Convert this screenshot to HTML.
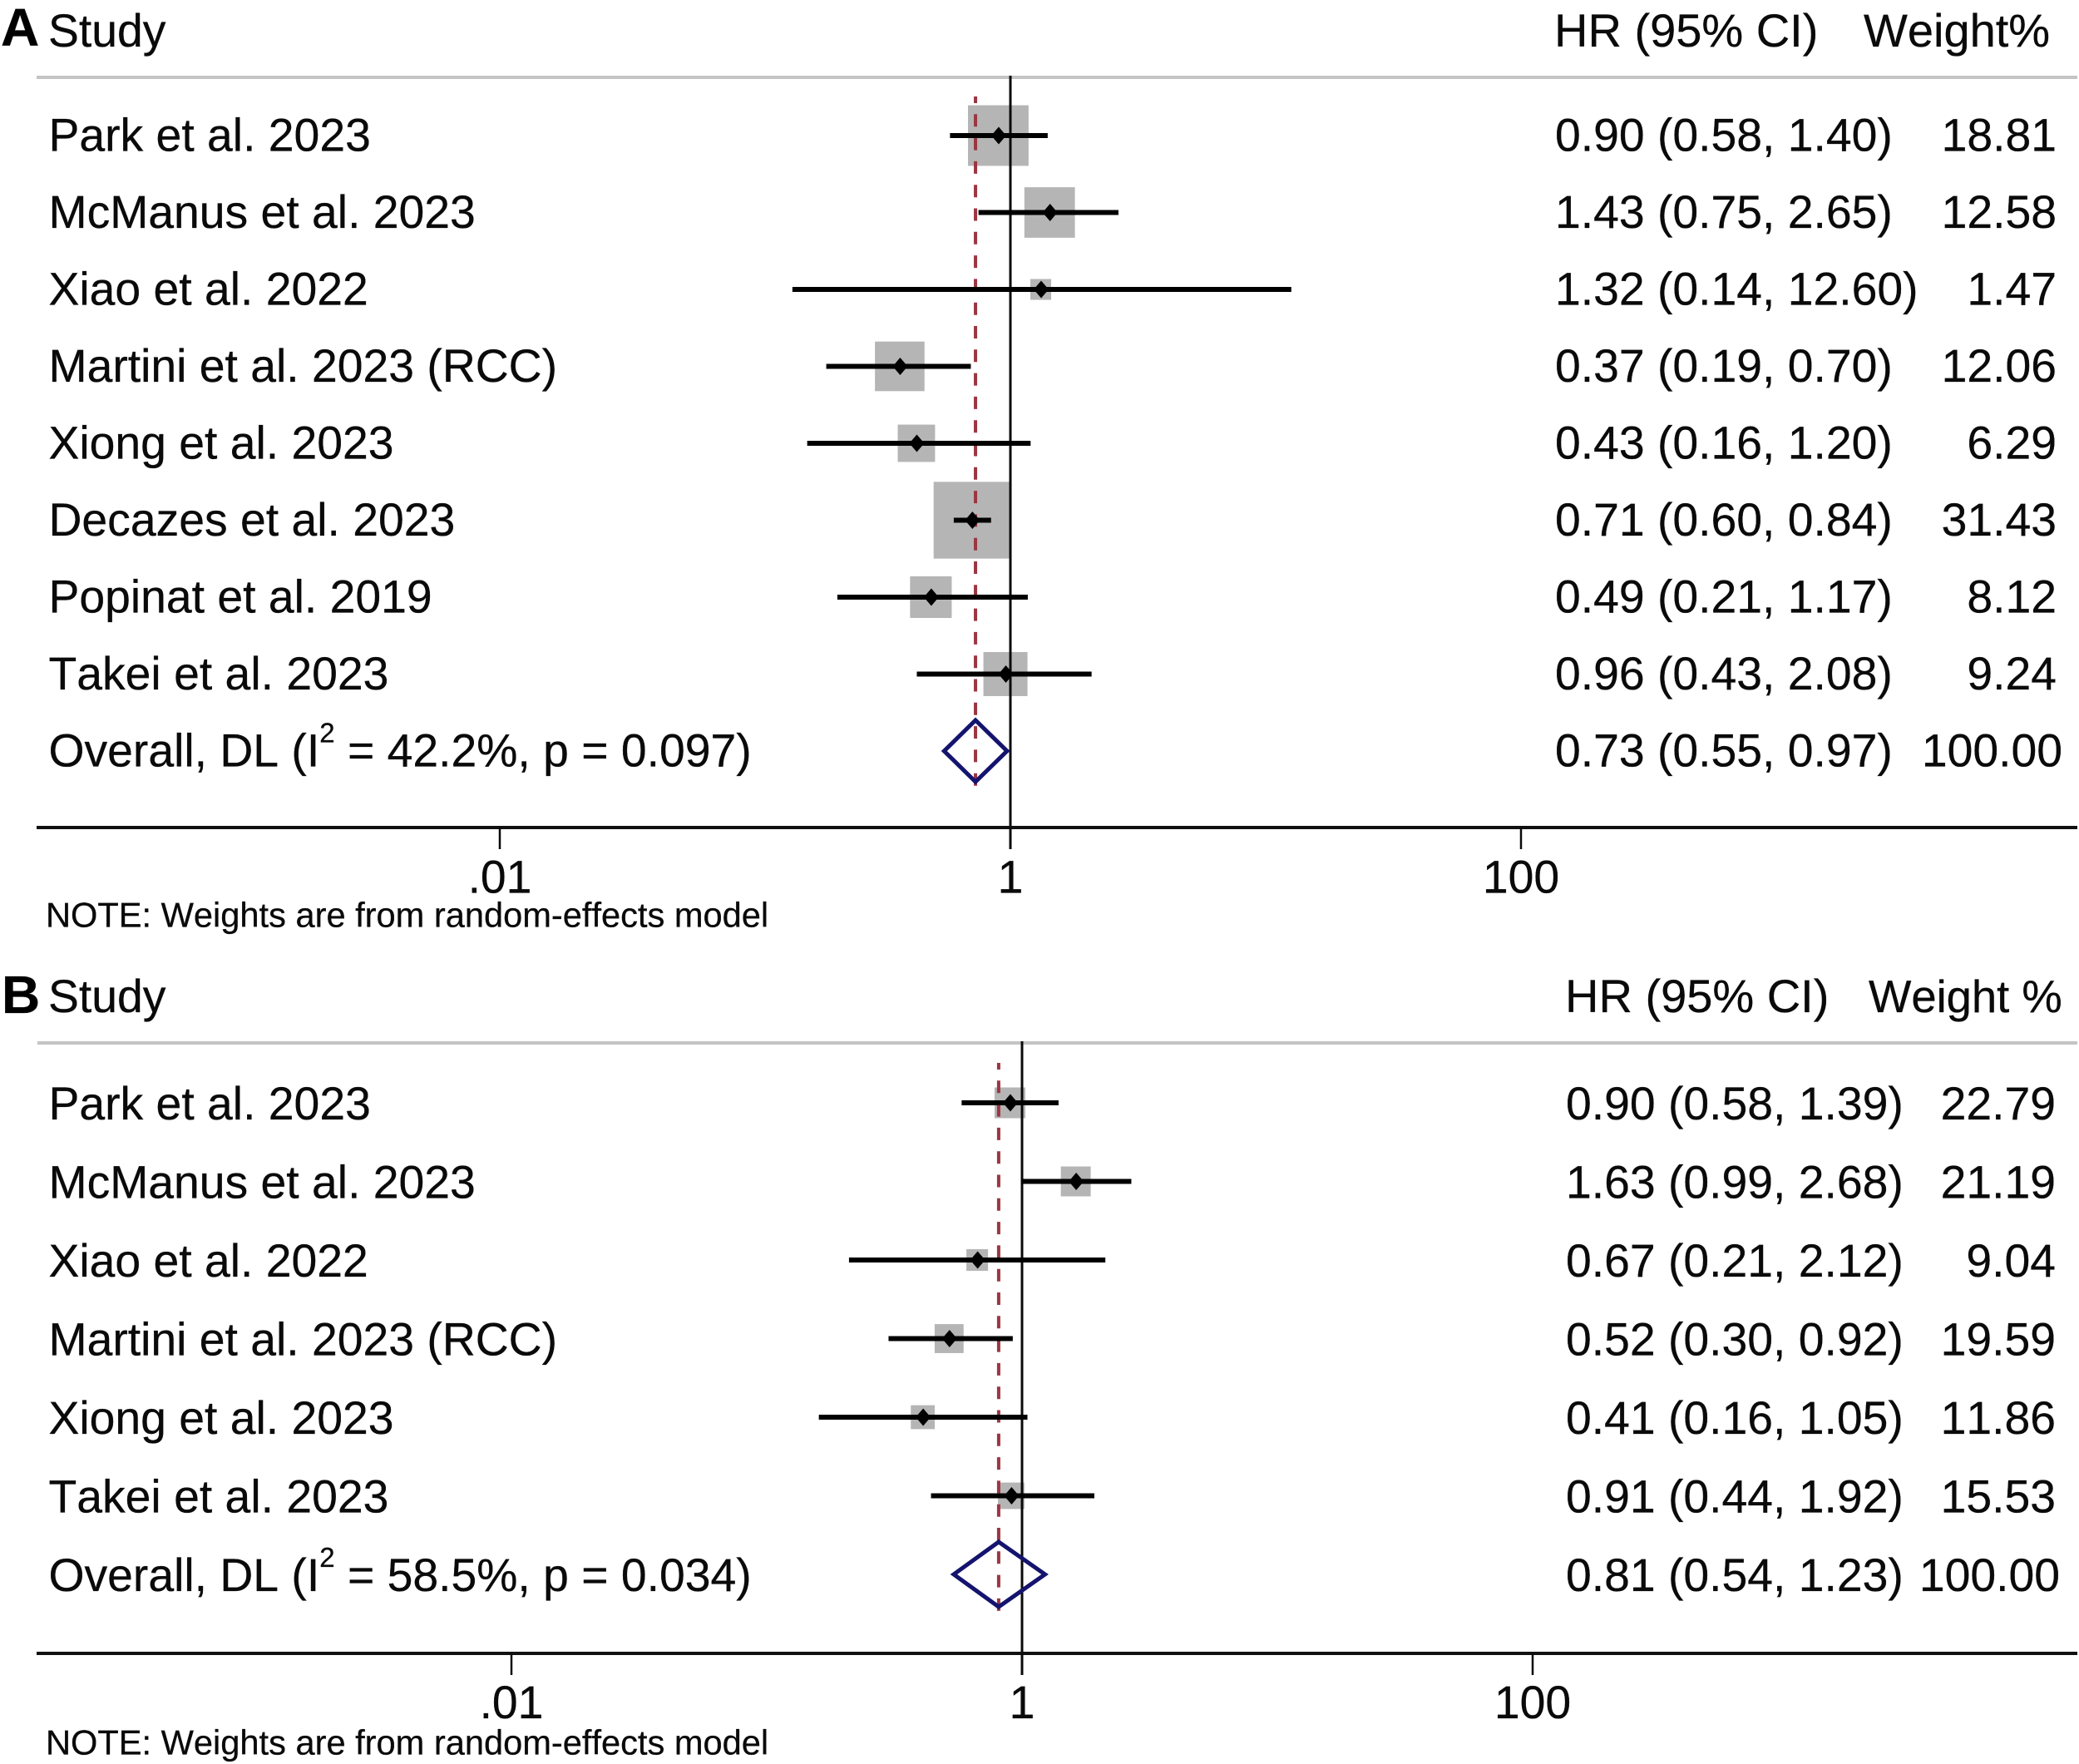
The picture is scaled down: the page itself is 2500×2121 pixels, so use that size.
<!DOCTYPE html>
<html lang="en">
<head>
<meta charset="utf-8">
<title>Forest plots of hazard ratios</title>
<style>
html,body{margin:0;padding:0;background:#fff;}
svg{display:block;}
text{font-family:"Liberation Sans",Arial,sans-serif;fill:#0a0a0a;stroke:#0a0a0a;stroke-width:.3px;font-kerning:none;}
.t{font-size:55.3px;}
.h{font-size:56px;}
.note{font-size:41.6px;}
.panel-letter{font-size:64px;font-weight:bold;fill:#000;}
</style>
</head>
<body>
<svg id="chart" xmlns="http://www.w3.org/2000/svg" width="2500" height="2121" viewBox="0 0 2500 2121">
  <rect x="0" y="0" width="2500" height="2121" fill="#fff"/>

  <g id="panelA">
    <text class="panel-letter" x="1" y="55">A</text>
    <text class="t" x="58" y="56">Study</text>
    <text class="h" x="1869" y="56">HR (95% CI)</text>
    <text class="h" x="2241" y="56">Weight%</text>
    <rect x="44" y="91" width="2454" height="4" fill="#c4c4c4"/>
    <text class="note" x="55" y="1114.5">NOTE: Weights are from random-effects model</text>
  </g>

  <g id="panelB">
    <text class="panel-letter" x="2" y="1218">B</text>
    <text class="t" x="58" y="1217">Study</text>
    <text class="h" x="1882" y="1217">HR (95% CI)</text>
    <text class="t" style="font-size:54.4px" x="2247" y="1217">Weight %</text>
    <rect x="45" y="1252" width="2453" height="4" fill="#c4c4c4"/>
    <text class="note" x="55" y="2109.5">NOTE: Weights are from random-effects model</text>
  </g>
</svg>

<script>
// ---- Axis ticks (shared) ----
const tickValues = [0.01, 1, 100];
const tickLabels = [".01", "1", "100"];

// ---- Panel A data ----
const studiesA = ["Park et al. 2023", "McManus et al. 2023", "Xiao et al. 2022", "Martini et al. 2023 (RCC)", "Xiong et al. 2023", "Decazes et al. 2023", "Popinat et al. 2019", "Takei et al. 2023"];
const hrA = [0.90, 1.43, 1.32, 0.37, 0.43, 0.71, 0.49, 0.96];
const lowA = [0.58, 0.75, 0.14, 0.19, 0.16, 0.60, 0.21, 0.43];
const highA = [1.40, 2.65, 12.60, 0.70, 1.20, 0.84, 1.17, 2.08];
const weightA = [18.81, 12.58, 1.47, 12.06, 6.29, 31.43, 8.12, 9.24];
const overallA = [0.73, 0.55, 0.97];
const overallWeightA = 100.00;
const i2A = "42.2";
const pA = "0.097";

// ---- Panel B data ----
const studiesB = ["Park et al. 2023", "McManus et al. 2023", "Xiao et al. 2022", "Martini et al. 2023 (RCC)", "Xiong et al. 2023", "Takei et al. 2023"];
const hrB = [0.90, 1.63, 0.67, 0.52, 0.41, 0.91];
const lowB = [0.58, 0.99, 0.21, 0.30, 0.16, 0.44];
const highB = [1.39, 2.68, 2.12, 0.92, 1.05, 1.92];
const weightB = [22.79, 21.19, 9.04, 19.59, 11.86, 15.53];
const overallB = [0.81, 0.54, 1.23];
const overallWeightB = 100.00;
const i2B = "58.5";
const pB = "0.034";

const SVGNS = "http://www.w3.org/2000/svg";

function make(parent, tag, attrs, content) {
  const el = document.createElementNS(SVGNS, tag);
  for (const k in attrs) el.setAttribute(k, attrs[k]);
  if (content !== undefined) el.textContent = content;
  parent.appendChild(el);
  return el;
}

function drawPanel(group, prefix, d, geo) {
  // Axis functions: log10 x scale and evenly spaced rows
  const xScale = function (v) { return geo.xOne + geo.perDecade * Math.log10(v); };
  const yRow = function (i) { return geo.rowTop + geo.rowStep * i; };
  const boxSize = function (w) { return geo.boxBase + geo.boxScale * Math.sqrt(w); };
  const n = d.studies.length;
  const yOverall = yRow(n);
  const tb = geo.textDrop;

  // Weight boxes first so the reference line draws over them
  d.studies.forEach(function (name, i) {
    const s = boxSize(d.weight[i]);
    const box = make(group, "rect", { x: xScale(d.hr[i]) - s / 2 - 0.5, y: yRow(i) - s / 2, width: s, height: s, fill: "#b5b5b5" });
    
    
  });

  // Null-effect line at HR = 1
  const nullLine = make(group, "line", { x1: xScale(1), x2: xScale(1), y1: geo.ruleY, y2: geo.axisY + geo.tickLen, stroke: "#0a0a0a", "stroke-width": 3 });
  
  

  // Overall-effect dashed line
  const dash = make(group, "line", { x1: xScale(d.overall[0]), x2: xScale(d.overall[0]), y1: geo.dashTop, y2: geo.dashBottom, stroke: "#9c3542", "stroke-width": 4, "stroke-dasharray": "15 13.3", "stroke-dashoffset": geo.dashOffset });
  
  

  // Rows: CI, point, labels
  d.studies.forEach(function (name, i) {
    const y = yRow(i);
    const ci = make(group, "line", { x1: xScale(d.low[i]), x2: xScale(d.high[i]), y1: y, y2: y, stroke: "#000", "stroke-width": 6 });
    
    

    const cx = xScale(d.hr[i]);
    const pt = make(group, "polygon", { points: (cx - 9) + "," + y + " " + cx + "," + (y - 10.5) + " " + (cx + 9) + "," + y + " " + cx + "," + (y + 10.5), fill: "#000" });
    
    

    const label = make(group, "text", { class: "t", x: 58.5, y: y + tb }, name);
    
    

    const hrText = d.hr[i].toFixed(2) + " (" + d.low[i].toFixed(2) + ", " + d.high[i].toFixed(2) + ")";
    const hrLabel = make(group, "text", { class: "t", x: geo.hrX, y: y + tb }, hrText);
    
    

    const wLabel = make(group, "text", { class: "t", x: geo.weightX, y: y + tb, "text-anchor": "end" }, d.weight[i].toFixed(2));
    
    
  });

  // Pooled-estimate diamond
  const ox = xScale(d.overall[0]);
  const dia = make(group, "polygon", {
    points: xScale(d.overall[1]) + "," + yOverall + " " + ox + "," + (yOverall - geo.diamondHalf) + " " + xScale(d.overall[2]) + "," + yOverall + " " + ox + "," + (yOverall + geo.diamondHalf),
    fill: "none", stroke: "#14146e", "stroke-width": 5
  });
  
  

  // Overall label with superscript
  const ol = make(group, "text", { class: "t", x: 58.5, y: yOverall + tb });
  
  
  make(ol, "tspan", {}, "Overall, DL (I");
  make(ol, "tspan", { dy: -29, "font-size": 33 }, "2");
  make(ol, "tspan", { dy: 29 }, " = " + d.i2 + "%, p = " + d.p + ")");

  const oHr = make(group, "text", { class: "t", x: geo.hrX, y: yOverall + tb }, d.overall[0].toFixed(2) + " (" + d.overall[1].toFixed(2) + ", " + d.overall[2].toFixed(2) + ")");
  
  

  const oW = make(group, "text", { class: "t", x: geo.overallWeightX, y: yOverall + tb, "text-anchor": "end" }, d.overallWeight.toFixed(2));
  
  

  // X axis
  const axis = make(group, "rect", { x: geo.ruleLeft, y: geo.axisY - 2, width: 2498 - geo.ruleLeft, height: 4, fill: "#111" });
  
  

  tickValues.forEach(function (v, i) {
    const tick = make(group, "line", { x1: xScale(v), x2: xScale(v), y1: geo.axisY, y2: geo.axisY + geo.tickLen, stroke: "#0a0a0a", "stroke-width": 2.5 });
    
    

    const tl = make(group, "text", { class: "t", x: xScale(v), y: geo.tickBaseline, "text-anchor": "middle" }, tickLabels[i]);
    
    
  });
}

drawPanel(document.getElementById("panelA"), "panel-a",
  { studies: studiesA, hr: hrA, low: lowA, high: highA, weight: weightA, overall: overallA, overallWeight: overallWeightA, i2: i2A, p: pA },
  { xOne: 1215, perDecade: 307, rowTop: 163, rowStep: 92.5, boxBase: 6.5, boxScale: 15.3, ruleY: 91, ruleLeft: 44, axisY: 995, tickLen: 26, tickBaseline: 1073.5, dashTop: 116, dashBottom: 949, dashOffset: 7, diamondHalf: 37, hrX: 1870, weightX: 2473, overallWeightX: 2480, textDrop: 18.5 });

drawPanel(document.getElementById("panelB"), "panel-b",
  { studies: studiesB, hr: hrB, low: lowB, high: highB, weight: weightB, overall: overallB, overallWeight: overallWeightB, i2: i2B, p: pB },
  { xOne: 1229, perDecade: 307, rowTop: 1326, rowStep: 94.5, boxBase: 7.4, boxScale: 6.2, ruleY: 1252, ruleLeft: 44, axisY: 1988, tickLen: 26, tickBaseline: 2066, dashTop: 1278, dashBottom: 1940, dashOffset: 7, diamondHalf: 39, hrX: 1883, weightX: 2472, overallWeightX: 2477, textDrop: 20 });
</script>
</body>
</html>
